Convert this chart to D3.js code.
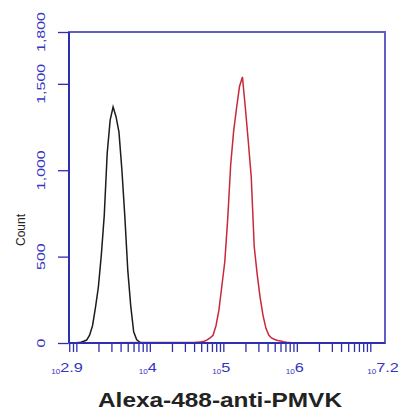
<!DOCTYPE html>
<html>
<head>
<meta charset="utf-8">
<script src="https://d3js.org/d3.v7.min.js"></script>
<style>
	body { margin: 0; background: #fff; }
	svg { display: block; font-family: Arial, "Liberation Sans", sans-serif; }
	.frame { fill: none; stroke: #6060c4; stroke-width: 2; }
	.axis path { display: none; }
	.axis line { stroke: #2e2eb0; stroke-width: 1.3; }
	.black { fill: none; stroke: #1c1c1c; stroke-width: 1.5; stroke-linejoin: miter; }
	.red { fill: none; stroke: #c8283a; stroke-width: 1.5; stroke-linejoin: miter; }
</style>
</head>
<body>
<svg></svg>
<script>
	var width = 402;
	var height = 416;
	var margins = { left: 69, right: 17, top: 32, bottom: 73 };
	var pw = width - margins.left - margins.right;
	var ph = height - margins.top - margins.bottom;

	// histogram bins: log10 of intensity and event count
	var blackLog = [2.90, 2.94, 2.98, 3.02, 3.06, 3.10, 3.14, 3.18, 3.22, 3.26, 3.30, 3.34, 3.38,
		3.42, 3.46, 3.50, 3.54, 3.58, 3.62, 3.66, 3.70, 3.74, 3.78, 3.82, 3.86, 3.90];
	var blackCount = [0, 0, 2, 3, 5, 10, 17, 45, 100, 205, 325, 510, 740,
		1100, 1290, 1366, 1310, 1220, 1000, 730, 420, 215, 65, 20, 5, 0];

	var redLog = [3.50, 3.90, 4.30, 4.62, 4.66, 4.70, 4.74, 4.78, 4.82, 4.86, 4.90, 4.94, 4.98,
		5.02, 5.06, 5.10, 5.14, 5.18, 5.22, 5.26, 5.30, 5.34, 5.38, 5.42, 5.46, 5.50,
		5.54, 5.58, 5.62, 5.66, 5.70, 5.74, 5.78, 5.82, 5.86, 5.90, 5.94];
	var redCount = [2, 3, 3, 4, 5, 7, 10, 18, 30, 45, 100, 190, 330,
		470, 720, 1030, 1225, 1360, 1485, 1540, 1360, 1165, 960, 560, 400, 265,
		160, 85, 45, 28, 20, 15, 12, 8, 5, 3, 0];

	var yTicks = [0, 500, 1000, 1500, 1800];
	var yLabels = ["0", "500", "1,000", "1,500", "1,800"];
	var xExponents = ["2.9", "4", "5", "6", "7.2"];
	var xTitle = "Alexa-488-anti-PMVK";
	var yTitle = "Count";

	var svg = d3.select("svg")
		.attr("width", width)
		.attr("height", height);

	var x = d3.scaleLog()
		.domain([Math.pow(10, 2.9), Math.pow(10, 7.2)])
		.range([0, pw]);
	var y = d3.scaleLinear()
		.domain([0, 1800])
		.range([ph, 0]);

	var g = svg.append("g")
		.attr("transform", "translate(" + margins.left + "," + margins.top + ")");

	// log minor ticks, 1..9 per decade inside the domain
	var xTickVals = [];
	for (var e = 2; e <= 7; e++) {
		for (var k = 1; k <= 9; k++) {
			var v = k * Math.pow(10, e);
			if (v >= x.domain()[0] && v <= x.domain()[1]) xTickVals.push(v);
		}
	}

	g.append("g")
		.attr("class", "axis")
		.attr("transform", "translate(0," + ph + ")")
		.call(d3.axisBottom(x).tickValues(xTickVals).tickSize(9).tickFormat(""));

	g.append("g")
		.attr("class", "axis")
		.call(d3.axisLeft(y).tickValues(yTicks).tickSize(11).tickFormat(""));

	var line = d3.line()
		.x(function (d) { return x(Math.pow(10, d[0])); })
		.y(function (d) { return y(d[1]); });

	g.append("path")
		.attr("class", "black")
		.attr("d", line(d3.zip(blackLog, blackCount)));

	g.append("path")
		.attr("class", "red")
		.attr("d", line(d3.zip(redLog, redCount)));

	// frame
	g.append("rect")
		.attr("class", "frame")
		.attr("width", pw)
		.attr("height", ph);
	g.append("line")
		.attr("x1", 0).attr("x2", 0).attr("y1", 0).attr("y2", ph)
		.attr("stroke", "#2e2eb0").attr("stroke-width", 2);
	g.append("line")
		.attr("x1", 0).attr("x2", pw).attr("y1", ph).attr("y2", ph)
		.attr("stroke", "#2e2eb0").attr("stroke-width", 2);

	// y tick labels, rotated and stretched
	g.selectAll(".ylab")
		.data(yTicks)
		.enter()
		.append("text")
		.attr("class", "ylab")
		.attr("transform", d => "translate(-24," + y(d) + ") rotate(-90) scale(1.45,1)")
		.attr("text-anchor", "middle")
		.attr("fill", "#3535c0")
		.attr("font-size", 11)
		.text((d, i) => yLabels[i]);

	// x tick labels: small "10" followed by exponent
	var xl = g.selectAll(".xlab")
		.data(xExponents)
		.enter()
		.append("text")
		.attr("class", "xlab")
		.attr("transform", d => "translate(" + (x(Math.pow(10, +d)) - 2) + "," + (ph + 29) + ") scale(1.25,1)")
		.attr("text-anchor", "middle")
		.attr("fill", "#3535c0");
	xl.append("tspan")
		.attr("font-size", 6.5)
		.attr("dy", 2)
		.text("10");
	xl.append("tspan")
		.attr("font-size", 13)
		.attr("dy", -2)
		.text(d => d);

	svg.append("text")
		.attr("x", 220)
		.attr("y", 407)
		.attr("text-anchor", "middle")
		.attr("font-size", 21)
		.attr("font-weight", "bold")
		.attr("fill", "#222")
		.attr("textLength", 244)
		.attr("lengthAdjust", "spacingAndGlyphs")
		.text(xTitle);

	svg.append("text")
		.attr("transform", "translate(25,230) rotate(-90)")
		.attr("text-anchor", "middle")
		.attr("font-size", 12)
		.attr("fill", "#222")
		.text(yTitle);
</script>
</body>
</html>
